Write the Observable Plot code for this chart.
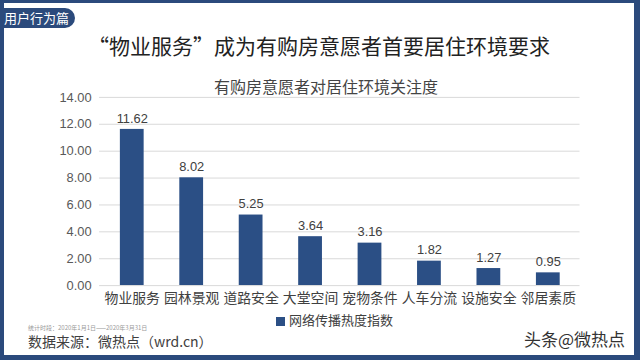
<!DOCTYPE html>
<html><head><meta charset="utf-8">
<script src="https://cdn.jsdelivr.net/npm/d3@7"></script>
<script src="https://cdn.jsdelivr.net/npm/@observablehq/plot@0.6"></script>
<style>
html,body{margin:0;padding:0;background:#fff;}
#frame{position:relative;width:640px;height:360px;box-sizing:border-box;border-style:solid;border-color:#2b4a7c;border-width:3px 6px 5px 4px;background:#fff;overflow:hidden;font-family:"Liberation Sans","Noto Sans CJK SC",sans-serif;}
.abs{position:absolute;white-space:nowrap;}
#tag{left:-4px;top:5px;height:20px;line-height:20px;padding:0 6px 0 4px;background:#2b4a7c;color:#fff;font-size:13px;border-radius:0 10px 10px 0;font-family:"Noto Sans CJK SC",sans-serif;}
#title{left:0;width:630px;text-align:center;top:27px;font-size:21px;color:#222;font-family:"Noto Sans CJK SC",sans-serif;}
#sub{left:0;width:630px;text-align:center;top:71px;font-size:16px;color:#444;padding-left:14px;box-sizing:border-box;font-family:"Noto Sans CJK SC",sans-serif;}
#chart{left:-4px;top:84px;}
#legend{left:272px;top:307px;font-size:13px;color:#404040;font-family:"Noto Sans CJK SC",sans-serif;}
#legend span.sw{display:inline-block;width:9px;height:9px;background:#2b4f85;margin-right:4px;vertical-align:-1px;}
#period{left:24px;top:320px;font-size:6px;color:#999;font-family:"Noto Sans CJK SC",sans-serif;}
#source{left:24px;top:328px;font-size:14px;color:#404040;font-family:"Noto Sans CJK SC",sans-serif;}
#wm{left:520px;top:323px;font-size:17px;color:#333;font-family:"Noto Sans CJK SC",sans-serif;text-shadow:0 0 2px #fff;}
</style></head>
<body>
<div id="frame">
  <div class="abs" id="tag">用户行为篇</div>
  <div class="abs" id="title">“物业服务”成为有购房意愿者首要居住环境要求</div>
  <div class="abs" id="sub">有购房意愿者对居住环境关注度</div>
  <div class="abs" id="chart"></div>
  <div class="abs" id="legend"><span class="sw"></span>网络传播热度指数</div>
  <div class="abs" id="period">统计时段：2020年1月1日——2020年3月31日</div>
  <div class="abs" id="source">数据来源：微热点（wrd.cn）</div>
  <div class="abs" id="wm">头条@微热点</div>
</div>
<script>
const categories = ["物业服务","园林景观","道路安全","大堂空间","宠物条件","人车分流","设施安全","邻居素质"];
const values = [11.62, 8.02, 5.25, 3.64, 3.16, 1.82, 1.27, 0.95];
const yTicks = [0, 2, 4, 6, 8, 10, 12, 14];
const seriesName = "网络传播热度指数";

const data = categories.map((c, i) => ({category: c, value: values[i]}));

const chart = Plot.plot({
  width: 640,
  height: 236,
  marginTop: 10,
  marginBottom: 36,
  marginLeft: 100,
  marginRight: 55,
  style: {fontFamily: "'Liberation Sans','Noto Sans CJK SC',sans-serif", background: "transparent"},
  x: {domain: categories, paddingInner: 0.605, paddingOuter: 0.3, label: null},
  y: {domain: [0, 14], label: null},
  marks: [
    Plot.ruleY(yTicks.filter(d => d > 0), {stroke: "#d9d9d9", strokeWidth: 1}),
    Plot.axisY({ticks: yTicks, tickFormat: d3.format(".2f"), tickSize: 0, tickPadding: 8, fontSize: 13, fill: "#595959", label: null}),
    Plot.axisX({tickSize: 0, tickPadding: 8, fontSize: 14, fill: "#404040", fontFamily: "'Noto Sans CJK SC',sans-serif", label: null}),
    Plot.barY(data, {x: "category", y: "value", fill: "#2b4f85"}),
    Plot.ruleY([0], {stroke: "#d9d9d9", strokeWidth: 1}),
    Plot.text(data, {x: "category", y: "value", text: d => d3.format(".2f")(d.value), dy: -11, fontSize: 13, fill: "#404040"})
  ]
});
document.getElementById("chart").appendChild(chart);
</script>
</body></html>
